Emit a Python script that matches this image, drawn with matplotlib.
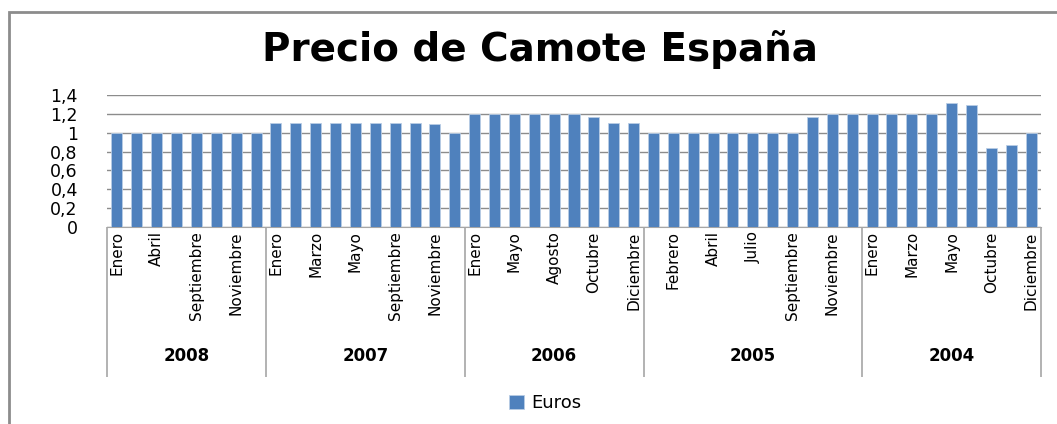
import matplotlib.pyplot as plt
from matplotlib.patches import Rectangle
from matplotlib.transforms import blended_transform_factory

# data (Euros por mes, agrupado por año)
years = ["2008", "2007", "2006", "2005", "2004"]

months_2008 = ["Enero", "Febrero", "Abril", "Mayo", "Septiembre", "Octubre", "Noviembre", "Diciembre"]
months_2007 = ["Enero", "Febrero", "Marzo", "Abril", "Mayo", "Junio", "Septiembre", "Octubre", "Noviembre", "Diciembre"]
months_2006 = ["Enero", "Marzo", "Mayo", "Julio", "Agosto", "Septiembre", "Octubre", "Noviembre", "Diciembre"]
months_2005 = ["Enero", "Febrero", "Marzo", "Abril", "Junio", "Julio", "Agosto", "Septiembre", "Octubre", "Noviembre", "Diciembre"]
months_2004 = ["Enero", "Febrero", "Marzo", "Abril", "Mayo", "Septiembre", "Octubre", "Noviembre", "Diciembre"]

euros_2008 = [1.0, 1.0, 1.0, 1.0, 1.0, 1.0, 1.0, 1.0]
euros_2007 = [1.1, 1.1, 1.1, 1.1, 1.1, 1.1, 1.1, 1.1, 1.09, 1.0]
euros_2006 = [1.2, 1.2, 1.2, 1.2, 1.2, 1.2, 1.17, 1.1, 1.1]
euros_2005 = [1.0, 1.0, 1.0, 1.0, 1.0, 1.0, 1.0, 1.0, 1.17, 1.2, 1.2]
euros_2004 = [1.2, 1.2, 1.2, 1.2, 1.32, 1.29, 0.84, 0.87, 1.0]

months = [months_2008, months_2007, months_2006, months_2005, months_2004]
euros = [euros_2008, euros_2007, euros_2006, euros_2005, euros_2004]

y_ticks = [0, 0.2, 0.4, 0.6, 0.8, 1.0, 1.2, 1.4]
y_tick_labels = ["0", "0,2", "0,4", "0,6", "0,8", "1", "1,2", "1,4"]

all_months = [m for grp in months for m in grp]
all_vals = [v for grp in euros for v in grp]
n = len(all_vals)

W, H = 1057, 424
fig = plt.figure(figsize=(W / 100, H / 100), dpi=100)

# outer chart frame (runs off the right and bottom edge)
fig.patches.append(Rectangle((9 / W, -0.1), 1.2, (H - 12) / H + 0.1,
                             transform=fig.transFigure, fill=False,
                             edgecolor="#8c8c8c", linewidth=2))

left, right, top, base = 107, 1041, 95, 227
ax = fig.add_axes([left / W, (H - base) / H, (right - left) / W, (base - top) / H])

ax.bar(range(n), all_vals, width=0.555, color="#4F81BD", edgecolor="#B9CDE5",
       linewidth=0.6, label="Euros", zorder=3)

ax.set_xlim(-0.5, n - 0.5)
ax.set_ylim(0, 1.4)
ax.set_yticks(y_ticks)
ax.set_yticklabels(y_tick_labels, fontsize=12.5, family="DejaVu Sans")
ax.yaxis.grid(True, color="#8c8c8c", linewidth=1)
for s in ["top", "right", "left"]:
    ax.spines[s].set_visible(False)
ax.spines["bottom"].set_color("#a6a6a6")

# month labels, only every other category is shown (like excel does)
ax.set_xticks(range(n))
ax.set_xticklabels([m if i % 2 == 0 else "" for i, m in enumerate(all_months)],
                   rotation=90, fontsize=11, family="DejaVu Sans",
                   va="top", ha="center")
ax.tick_params(axis="x", length=0, pad=3)
ax.tick_params(axis="y", length=0, pad=21)

# year group dividers and labels
trans = blended_transform_factory(ax.transData, ax.transAxes)
y_low = -(377 - base) / (base - top)
pos = -0.5
bounds = [pos]
for grp in euros:
    pos += len(grp)
    bounds.append(pos)
ax.vlines(bounds, y_low, 0, transform=trans, colors="#a6a6a6", linewidth=1.2, clip_on=False)
for i, yr in enumerate(years):
    mid = (bounds[i] + bounds[i + 1]) / 2
    ax.text(mid, -(356 - base) / (base - top), yr, transform=trans, ha="center", va="center",
            fontsize=12, fontweight="bold", family="DejaVu Sans")

fig.text(540 / W, 1 - 50 / H, "Precio de Camote España", ha="center", va="center",
         fontsize=28, fontweight="bold", family="DejaVu Sans")

fig.legend(loc="center", bbox_to_anchor=(545 / W, 1 - 403 / H), frameon=False,
           prop={"family": "DejaVu Sans", "size": 13}, handlelength=0.8, handleheight=0.8,
           handletextpad=0.4)

fig.savefig("out.png", dpi=100)
